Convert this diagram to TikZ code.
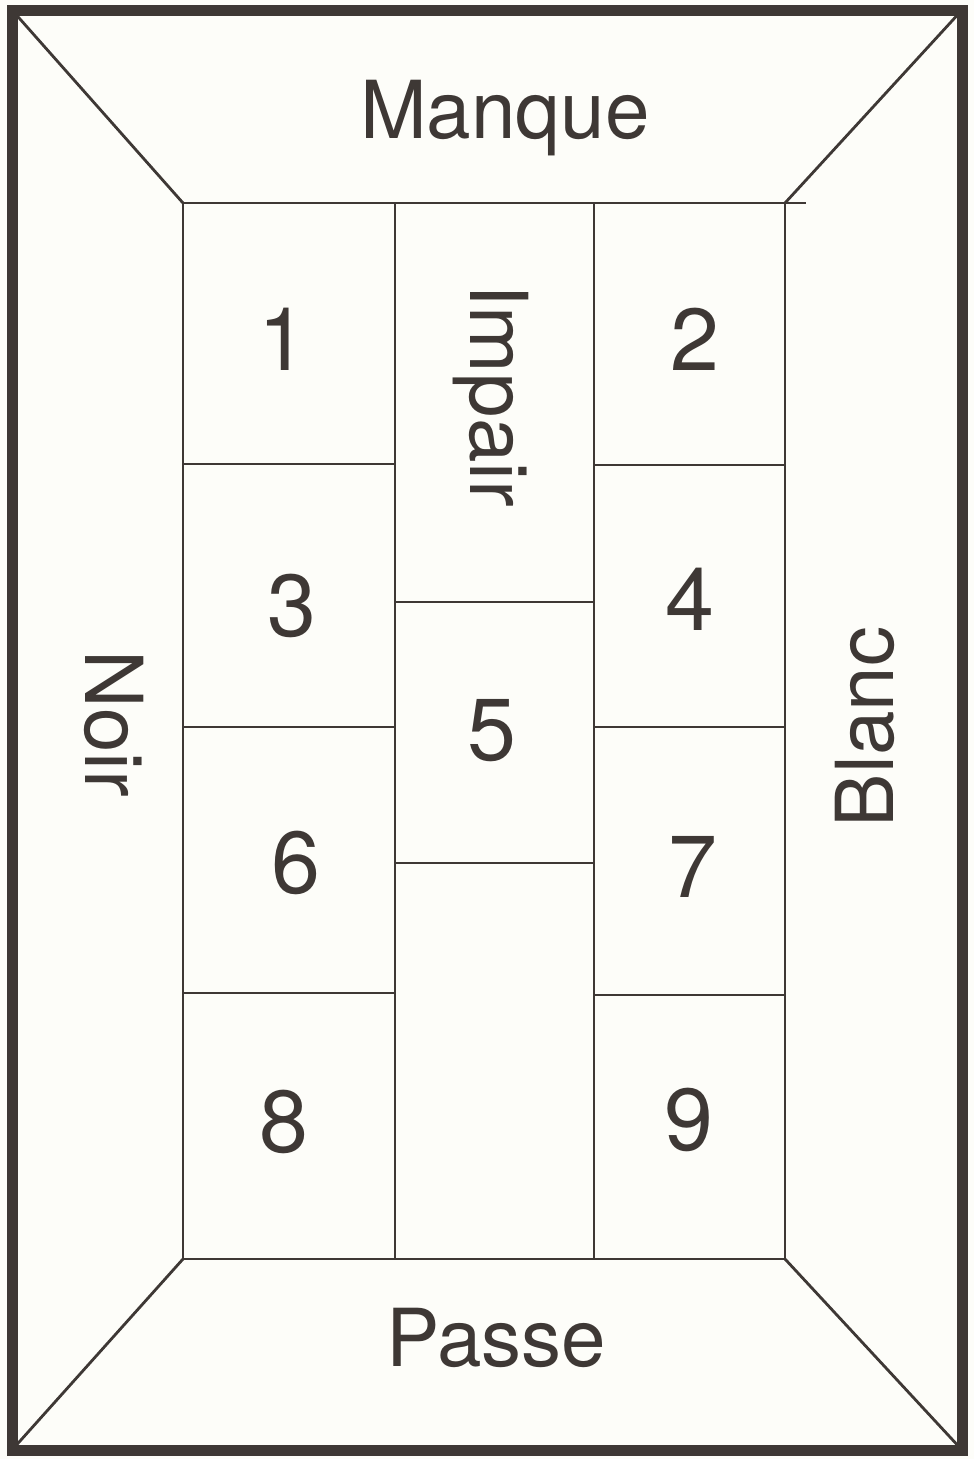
\documentclass[tikz,border=0pt]{standalone}
\usepackage{fontspec}
\setmainfont{TeX Gyre Heros}
\definecolor{ink}{HTML}{3E3835}
\definecolor{paper}{HTML}{FDFDF9}
\begin{document}
\begin{tikzpicture}[x=1pt,y=-1pt,
  frame/.style={draw=ink,line width=11pt,line join=miter},
  grid/.style={draw=ink,line width=1.8pt},
  diag/.style={draw=ink,line width=2.8pt},
  big/.style={text=ink,inner sep=0pt,anchor=base,font=\fontsize{80}{90}\selectfont},
  num/.style={text=ink,inner sep=0pt,anchor=base,font=\fontsize{88}{96}\selectfont}]
\fill[paper] (0,0) rectangle (974,1459);
\useasboundingbox (0,0) rectangle (974,1459);
% corners
\coordinate (o1) at (12,10);
\coordinate (o2) at (962,10);
\coordinate (o3) at (962,1450);
\coordinate (o4) at (12,1450);
\coordinate (i1) at (183,203);
\coordinate (i2) at (785,203);
\coordinate (i3) at (785,1259);
\coordinate (i4) at (183,1259);
% diagonals
\draw[diag] (o1) -- (i1);
\draw[diag] (o2) -- (i2);
\draw[diag] (o3) -- (i3);
\draw[diag] (o4) -- (i4);
% inner table
\draw[grid] (i1) -- (806,203);
\draw[grid] (i1) -- (i4) -- (i3) -- (i2);
\draw[grid] (395,203) -- (395,1259);
\draw[grid] (594,203) -- (594,1259);
\draw[grid] (183,464) -- (395,464);
\draw[grid] (183,727) -- (395,727);
\draw[grid] (183,993) -- (395,993);
\draw[grid] (594,465) -- (785,465);
\draw[grid] (594,727) -- (785,727);
\draw[grid] (594,995) -- (785,995);
\draw[grid] (395,602) -- (594,602);
\draw[grid] (395,863) -- (594,863);
% outer frame
\draw[frame] (o1) -- (o2) -- (o3) -- (o4) -- cycle;
% labels
\node[big] (manque) at (505,138) {Manque};
\node[big] (passe) at (496,1366) {Passe};
\node[big,rotate=-90] (impair) at (470,396) {Impair};
\node[big,rotate=-90] (noir) at (85,724) {Noir};
\node[big,rotate=90] (blanc) at (893,727) {Blanc};
% numbers
\node[num] (n1) at (283,370) {1};
\node[num] (n2) at (695,370) {2};
\node[num] (n3) at (292,636) {3};
\node[num] (n4) at (690,630) {4};
\node[num] (n5) at (492,760) {5};
\node[num] (n6) at (296,893) {6};
\node[num] (n7) at (693,897) {7};
\node[num] (n8) at (284,1152) {8};
\node[num] (n9) at (689,1150) {9};
\end{tikzpicture}
\end{document}
